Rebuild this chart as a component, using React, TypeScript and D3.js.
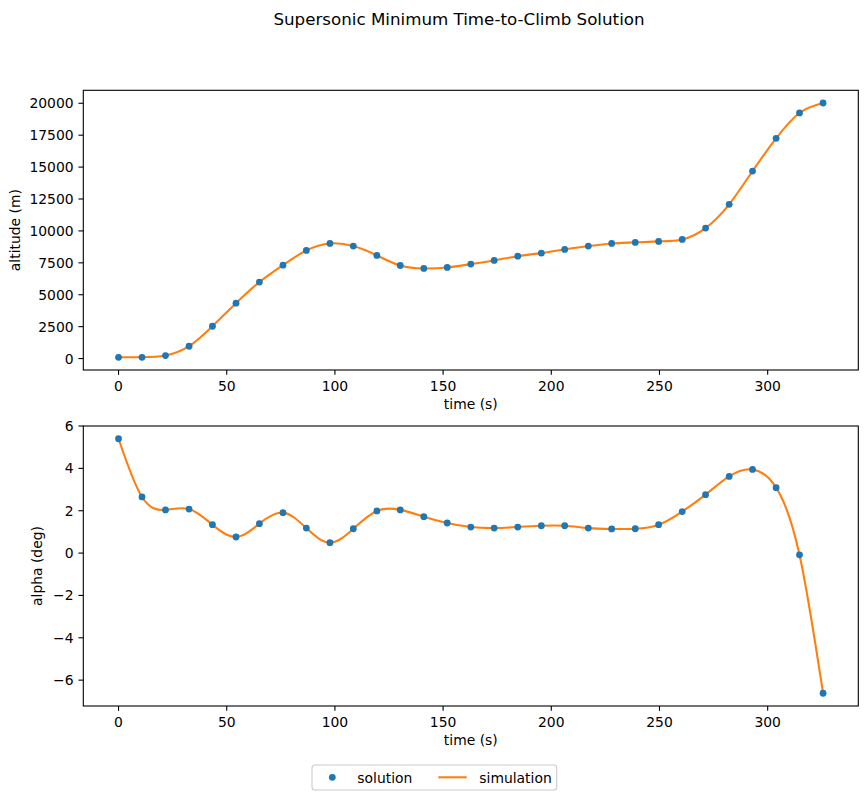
import React from 'react';
import * as d3 from 'd3';

// collocation nodes (s)
const times = [
  0, 10.85, 21.7, 32.6, 43.4, 54.3, 65.1, 76.0, 86.8, 97.7, 108.5, 119.4, 130.2, 141.1, 151.9,
  162.8, 173.6, 184.5, 195.4, 206.2, 217.1, 227.9, 238.8, 249.6, 260.5, 271.3, 282.2, 293.0,
  303.9, 314.7, 325.6,
];

const altitude = [
  100, 100, 235, 965, 2530, 4340, 5990, 7320, 8470, 9020, 8810, 8080, 7290, 7060, 7140,
  7400, 7690, 8020, 8260, 8550, 8810, 9020, 9100, 9180, 9330, 10220, 12080, 14690, 17250,
  19240, 20020,
];

const alpha = [
  5.4, 2.65, 2.04, 2.08, 1.34, 0.76, 1.39, 1.91, 1.18, 0.49, 1.15, 1.99, 2.04, 1.72, 1.42,
  1.23, 1.18, 1.23, 1.29, 1.29, 1.18, 1.14, 1.15, 1.34, 1.96, 2.76, 3.62, 3.95, 3.09,
  -0.08, -6.62,
];

const timeTicks = [0, 50, 100, 150, 200, 250, 300];
const altTicks = [0, 2500, 5000, 7500, 10000, 12500, 15000, 17500, 20000];
const alphaTicks = [-6, -4, -2, 0, 2, 4, 6];

const W = 868;
const H = 797;
const FONT = '"DejaVu Sans", sans-serif';
const BLUE = '#1f77b4';
const ORANGE = '#ff7f0e';
const LEFT = 83.3;
const RIGHT = 858.3;
const TICK = 4.86;

const pad = (lo: number, hi: number): [number, number] => {
  const r = hi - lo;
  return [lo - 0.05 * r, hi + 0.05 * r];
};

interface PanelProps {
  top: number;
  bottom: number;
  values: number[];
  yTicks: number[];
  yLabel: string;
  yLabelX: number;
}

const Panel: React.FC<PanelProps> = ({ top, bottom, values, yTicks, yLabel, yLabelX }) => {
  const [t0, t1] = d3.extent(times) as [number, number];
  const [v0, v1] = d3.extent(values) as [number, number];
  const x = d3.scaleLinear().domain(pad(t0, t1)).range([LEFT, RIGHT]);
  const y = d3.scaleLinear().domain(pad(v0, v1)).range([bottom, top]);

  const pts = times.map((t, i) => [t, values[i]] as [number, number]);
  const line = d3.line<[number, number]>()
    .x(d => x(d[0]))
    .y(d => y(d[1]))
    .curve(d3.curveNatural);

  const fmt = (v: number) => String(v).replace('-', '\u2212');

  return (
    <g fontFamily={FONT} fontSize={13.9}>
      <path d={line(pts) ?? ''} fill="none" stroke={ORANGE} strokeWidth={2.08} />
      {pts.map((d, i) => (
        <circle key={i} cx={x(d[0])} cy={y(d[1])} r={3.4} fill={BLUE} />
      ))}
      <rect x={LEFT} y={top} width={RIGHT - LEFT} height={bottom - top}
        fill="none" stroke="#000" strokeWidth={1.1} />
      {timeTicks.map(t => (
        <g key={t}>
          <line x1={x(t)} x2={x(t)} y1={bottom} y2={bottom + TICK} stroke="#000" strokeWidth={1.1} />
          <text x={x(t)} y={bottom + 20.6} textAnchor="middle">{t}</text>
        </g>
      ))}
      {yTicks.map(v => (
        <g key={v}>
          <line x1={LEFT - TICK} x2={LEFT} y1={y(v)} y2={y(v)} stroke="#000" strokeWidth={1.1} />
          <text x={LEFT - 2 * TICK} y={y(v)} dy="0.36em" textAnchor="end">{fmt(v)}</text>
        </g>
      ))}
      <text x={(LEFT + RIGHT) / 2} y={bottom + 39.3} textAnchor="middle">time (s)</text>
      <text transform={`translate(${yLabelX},${(top + bottom) / 2}) rotate(-90)`} textAnchor="middle">
        {yLabel}
      </text>
    </g>
  );
};

export default function App() {
  return (
    <>
      <style>{`body{margin:0}`}</style>
      <svg width={W} height={H} style={{ display: 'block', background: '#fff' }}>
        <text x={459} y={24.5} textAnchor="middle" fontFamily={FONT} fontSize={16.7}>
          Supersonic Minimum Time-to-Climb Solution
        </text>
        <Panel top={90.3} bottom={370} values={altitude} yTicks={altTicks}
          yLabel="altitude (m)" yLabelX={20} />
        <Panel top={426} bottom={706} values={alpha} yTicks={alphaTicks}
          yLabel="alpha (deg)" yLabelX={41.5} />
        <g fontFamily={FONT} fontSize={13.9}>
          <rect x={312} y={765} width={244.7} height={25} rx={3} fill="#fff"
            stroke="#cccccc" strokeWidth={1.1} />
          <circle cx={332.3} cy={777.3} r={3.4} fill={BLUE} />
          <text x={357.3} y={782.5}>solution</text>
          <line x1={438.3} x2={466.7} y1={777.3} y2={777.3} stroke={ORANGE} strokeWidth={2.08} />
          <text x={479.3} y={782.5}>simulation</text>
        </g>
      </svg>
    </>
  );
}
